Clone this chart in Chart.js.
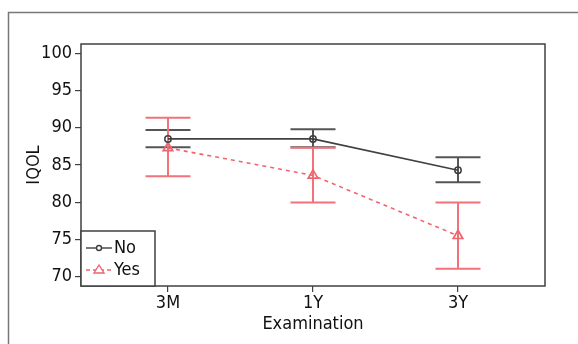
<!DOCTYPE html>
<html><head><meta charset="utf-8">
<script src="https://cdn.jsdelivr.net/npm/chart.js@4/dist/chart.umd.min.js"></script>
<style>html,body{margin:0;padding:0;background:#fff}#wrap{width:578px;height:344px}</style>
</head><body><div id="wrap"><canvas id="c" width="578" height="344"></canvas></div>
<script>
const categories = ["3M", "1Y", "3Y"];
const seriesNames = ["No", "Yes"];
const noMean = [88.5, 88.5, 84.3];
const noLow = [87.4, 87.4, 82.7];
const noHigh = [89.7, 89.8, 86.05];
const yesMean = [87.3, 83.6, 75.5];
const yesLow = [83.5, 79.95, 71.05];
const yesHigh = [91.35, 87.3, 79.95];
const yTicks = [70, 75, 80, 85, 90, 95, 100];

const FONT = "'Liberation Sans Narrow', 'DejaVu Sans Condensed', 'Liberation Sans', sans-serif";
const GRAY = '#404040';
const RED = '#f0646e';

const errorBars = [
  {low: noLow, high: noHigh, color: '#555555'},
  {low: yesLow, high: yesHigh, color: '#f2727a'}
];

const framePlugin = {
  id: 'frame',
  beforeDraw(chart) {
    const ctx = chart.ctx;
    ctx.save();
    ctx.strokeStyle = '#777';
    ctx.lineWidth = 1.5;
    ctx.beginPath();
    ctx.moveTo(8.5, 344);
    ctx.lineTo(8.5, 12.5);
    ctx.lineTo(578, 12.5);
    ctx.stroke();
    ctx.restore();
  },
  beforeDatasetsDraw(chart) {
    const ctx = chart.ctx, xs = chart.scales.x, ys = chart.scales.y;
    ctx.save();
    errorBars.forEach(eb => {
      ctx.strokeStyle = eb.color;
      ctx.lineWidth = 2;
      categories.forEach((c, i) => {
        const x = xs.getPixelForValue(i);
        const y1 = ys.getPixelForValue(eb.low[i]);
        const y2 = ys.getPixelForValue(eb.high[i]);
        const hw = 22.5;
        ctx.beginPath();
        ctx.moveTo(x, y1); ctx.lineTo(x, y2);
        ctx.moveTo(x - hw, y1); ctx.lineTo(x + hw, y1);
        ctx.moveTo(x - hw, y2); ctx.lineTo(x + hw, y2);
        ctx.stroke();
      });
    });
    ctx.restore();
  },
  afterDatasetsDraw(chart) {
    const ctx = chart.ctx;
    ctx.save();
    // plot box
    const a = chart.chartArea;
    ctx.strokeStyle = GRAY;
    ctx.lineWidth = 1.5;
    ctx.strokeRect(a.left, a.top, a.right - a.left, a.bottom - a.top);
    // legend box
    const lx = a.left, ly = 231, lw = 74, lh = a.bottom - 231;
    ctx.fillStyle = '#fff';
    ctx.fillRect(lx, ly, lw, lh);
    ctx.strokeRect(lx, ly, lw, lh);
    // No entry
    ctx.lineWidth = 1.4;
    ctx.strokeStyle = GRAY;
    ctx.setLineDash([]);
    ctx.beginPath(); ctx.moveTo(86, 248); ctx.lineTo(112, 248); ctx.stroke();
    ctx.fillStyle = '#fff';
    ctx.beginPath(); ctx.arc(99, 248, 2.5, 0, Math.PI * 2); ctx.fill(); ctx.stroke();
    // Yes entry
    ctx.strokeStyle = RED;
    ctx.setLineDash([4, 3]);
    ctx.beginPath(); ctx.moveTo(86, 270); ctx.lineTo(112, 270); ctx.stroke();
    ctx.setLineDash([]);
    ctx.beginPath(); ctx.moveTo(99, 265); ctx.lineTo(104, 273); ctx.lineTo(94, 273); ctx.closePath();
    ctx.fillStyle = '#fff'; ctx.fill(); ctx.stroke();
    ctx.fillStyle = '#111';
    ctx.font = '18px ' + FONT;
    ctx.textBaseline = 'middle';
    ctx.textAlign = 'left';
    ctx.fillText(seriesNames[0], 114, 248);
    ctx.fillText(seriesNames[1], 114, 270);
    ctx.restore();
  }
};

new Chart(document.getElementById('c'), {
  type: 'line',
  data: {
    datasets: [
      {
        label: seriesNames[0],
        data: noMean.map((v, i) => ({x: i, y: v})),
        borderColor: GRAY, borderWidth: 1.7,
        pointStyle: 'circle', pointRadius: 3.2, pointBorderColor: GRAY,
        pointBackgroundColor: 'rgba(255,255,255,0)', pointBorderWidth: 1.5,
        tension: 0, order: 1
      },
      {
        label: seriesNames[1],
        data: yesMean.map((v, i) => ({x: i, y: v})),
        borderColor: RED, borderWidth: 1.6, borderDash: [4, 4],
        pointStyle: 'triangle', pointRadius: 5.5, pointBorderColor: RED,
        pointBackgroundColor: 'rgba(255,255,255,0)', pointBorderWidth: 1.7,
        tension: 0, order: 2
      }
    ]
  },
  options: {
    responsive: false, animation: false,
    devicePixelRatio: 1,
    layout: {padding: {left: 24, right: 33, top: 44, bottom: 9}},
    plugins: {legend: {display: false}, tooltip: {enabled: false}},
    scales: {
      x: {
        type: 'linear', min: -0.6, max: 2.6,
        afterBuildTicks(s) { s.ticks = categories.map((c, i) => ({value: i})); },
        afterFit(s) { s.height = 49; },
        ticks: {
          callback: (v) => categories[v] ?? '',
          color: '#111', font: {family: FONT, size: 18}, padding: 1, maxRotation: 0
        },
        grid: {display: true, drawOnChartArea: false, drawTicks: true, tickLength: 6, color: GRAY, lineWidth: 1.2},
        border: {display: false},
        title: {display: true, text: 'Examination', color: '#111', font: {family: FONT, size: 18}, padding: {top: 0, bottom: 0}}
      },
      y: {
        min: 68.75, max: 101.25,
        afterBuildTicks(s) { s.ticks = yTicks.map(v => ({value: v})); },
        afterFit(s) { s.width = 57; },
        ticks: {color: '#111', font: {family: FONT, size: 18}, padding: 3},
        grid: {display: true, drawOnChartArea: false, drawTicks: true, tickLength: 6, color: GRAY, lineWidth: 1.2},
        border: {display: false},
        title: {display: true, text: 'IQOL', color: '#111', font: {family: FONT, size: 18}, padding: {top: 0, bottom: 0}}
      }
    }
  },
  plugins: [framePlugin]
});
</script>
</body></html>
